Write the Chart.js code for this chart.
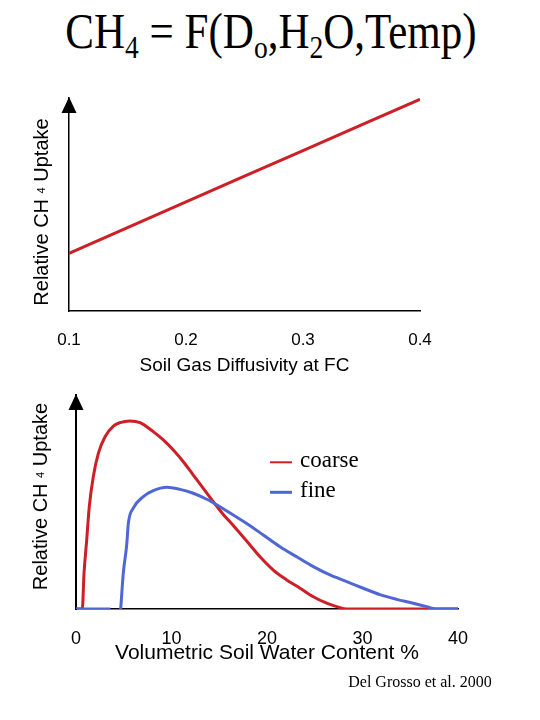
<!DOCTYPE html>
<html>
<head>
<meta charset="utf-8">
<script src="https://cdn.jsdelivr.net/npm/chart.js@4.4.0/dist/chart.umd.min.js"></script>
<style>
html,body{margin:0;padding:0;background:#fff;}
body{width:540px;height:720px;position:relative;overflow:hidden;}
#title{position:absolute;left:0;width:542px;top:6px;text-align:center;font-family:'Liberation Serif','Times New Roman',serif;font-size:50px;line-height:50px;color:#000;transform:scaleX(0.86);transform-origin:271px 0;white-space:nowrap;}
#title sub{font-size:0.64em;line-height:0;vertical-align:-0.3em;}
#cite{position:absolute;left:320px;width:200px;top:674px;text-align:center;font-family:'Liberation Serif','Times New Roman',serif;font-size:16px;line-height:16px;color:#000;white-space:nowrap;}
.box{position:absolute;left:0;width:540px;}
#b1{top:80px;height:310px;}
#b2{top:385px;height:285px;}
</style>
</head>
<body>
<div id="title">CH<sub>4</sub> = F(D<sub>o</sub>,H<sub>2</sub>O,Temp)</div>
<div class="box" id="b1"><canvas id="c1"></canvas></div>
<div class="box" id="b2"><canvas id="c2"></canvas></div>
<div id="cite">Del Grosso et al. 2000</div>
<script>
// ---- top chart data ----
const topXValues = [0.1, 0.15, 0.2, 0.25, 0.3, 0.35, 0.4];
const topYValues = [0.271, 0.392, 0.512, 0.633, 0.753, 0.874, 0.994];
const topTicks = [0.1, 0.2, 0.3, 0.4];
const topTickLabels = ['0.1', '0.2', '0.3', '0.4'];
const topXTitle = 'Soil Gas Diffusivity at FC';
const yTitleParts = ['Relative CH ', '4', ' Uptake'];

// ---- bottom chart data ----
const seriesNames = ['coarse', 'fine'];
const coarseX = [0, 0.66, 0.84, 1.12, 1.39, 1.81, 2.34, 3.04, 3.91, 4.61, 5.65, 6.7, 8.09, 9.14, 10.19, 11.24, 12.28, 13.33, 14.38, 15.42, 16.47, 17.17, 18.22, 19.27, 20.66, 22.06, 23.46, 24.85, 26.25, 27.3, 28.35, 40];
const coarseY = [0, 0, 0.167, 0.322, 0.478, 0.618, 0.727, 0.805, 0.855, 0.871, 0.879, 0.871, 0.829, 0.79, 0.743, 0.688, 0.626, 0.564, 0.501, 0.442, 0.39, 0.354, 0.299, 0.244, 0.182, 0.136, 0.097, 0.057, 0.027, 0.011, 0, 0];
const fineX = [0, 3.6, 4.1, 4.68, 4.95, 5.31, 5.48, 6.0, 7.05, 8.09, 9.5, 10.89, 12.28, 13.69, 15.08, 16.47, 17.87, 19.61, 21.36, 23.11, 24.85, 26.6, 28.35, 30.08, 31.83, 33.58, 35.32, 36.72, 37.77, 40];
const fineY = [0, 0, null, 0, 0.167, 0.3, 0.4, 0.471, 0.525, 0.553, 0.569, 0.559, 0.541, 0.513, 0.478, 0.439, 0.4, 0.346, 0.291, 0.244, 0.198, 0.159, 0.128, 0.097, 0.067, 0.045, 0.027, 0.011, 0, 0];
const botTicks = [0, 10, 20, 30, 40];
const botTickLabels = ['0', '10', '20', '30', '40'];
const botXTitle = 'Volumetric Soil Water Content %';

const RED = '#cc1f26';
const BLUE = '#4f67d4';
const SANS = "'Liberation Sans', Arial, sans-serif";
const SERIF = "'Liberation Serif', 'Times New Roman', serif";

const toXY = (xs, ys) => xs.map((x, i) => ({x: x, y: ys[i]}));

const arrowPlugin = {
  id: 'axisArrow',
  afterDraw(chart, args, o) {
    const a = chart.chartArea, ctx = chart.ctx;
    ctx.save();
    ctx.fillStyle = '#000';
    ctx.beginPath();
    ctx.moveTo(a.left, a.top - 1);
    ctx.lineTo(a.left - o.half, a.top + o.len);
    ctx.lineTo(a.left + o.half, a.top + o.len);
    ctx.closePath();
    ctx.fill();
    ctx.restore();
  }
};

const yTitlePlugin = {
  id: 'yTitle',
  afterDraw(chart, args, o) {
    const ctx = chart.ctx;
    ctx.save();
    ctx.translate(o.x, o.y);
    ctx.rotate(-Math.PI / 2);
    ctx.fillStyle = '#000';
    ctx.textBaseline = 'alphabetic';
    const fonts = [o.size + 'px ' + SANS, o.subSize + 'px ' + SANS, o.size + 'px ' + SANS];
    const shifts = [0, -o.subRaise, 0];
    let total = 0;
    const widths = o.parts.map((p, i) => { ctx.font = fonts[i]; const w = ctx.measureText(p).width; total += w; return w; });
    let x = -total / 2;
    o.parts.forEach((p, i) => {
      ctx.font = fonts[i];
      ctx.fillText(p, x, o.base + shifts[i]);
      x += widths[i];
    });
    ctx.restore();
  }
};

const legendPlugin = {
  id: 'lineLegend',
  afterDraw(chart, args, o) {
    const ctx = chart.ctx;
    ctx.save();
    chart.data.datasets.forEach((ds, i) => {
      const y = o.y + i * o.gap;
      ctx.strokeStyle = ds.borderColor;
      ctx.lineWidth = o.lineWidths[i];
      ctx.beginPath();
      ctx.moveTo(o.x, y);
      ctx.lineTo(o.x + o.len, y);
      ctx.stroke();
      ctx.fillStyle = '#000';
      ctx.font = o.size + 'px ' + SERIF;
      ctx.textBaseline = 'alphabetic';
      ctx.fillText(ds.label, o.x + o.len + o.textGap, y + o.baseOff);
    });
    ctx.restore();
  }
};

new Chart(document.getElementById('c1'), {
  type: 'line',
  data: {
    datasets: [{
      data: toXY(topXValues, topYValues),
      borderColor: RED,
      borderWidth: 3,
      pointRadius: 0,
      tension: 0
    }]
  },
  options: {
    responsive: true,
    maintainAspectRatio: false,
    animation: false,
    layout: {padding: {top: 18, right: 120, left: 0, bottom: 0}},
    plugins: {
      legend: {display: false},
      tooltip: {enabled: false},
      axisArrow: {half: 7.5, len: 15},
      yTitle: {parts: yTitleParts, x: 41, y: 132, size: 20, subSize: 11, subRaise: 3, base: 7}
    },
    scales: {
      x: {
        type: 'linear', min: 0.1, max: 0.4,
        grid: {display: false, drawTicks: false},
        border: {display: true, color: '#000', width: 1.5},
        ticks: {color: '#000', font: {family: SANS, size: 17}, padding: 19, maxRotation: 0, autoSkip: false,
          callback: (v, i) => topTickLabels[i]},
        afterBuildTicks: s => { s.ticks = topTicks.map(v => ({value: v})); },
        afterFit: s => { s.height = 79; },
        title: {display: true, text: topXTitle, color: '#000', font: {family: SANS, size: 19}, padding: {top: 0, bottom: 12.6}}
      },
      y: {
        min: 0, max: 1,
        grid: {display: false, drawTicks: false},
        border: {display: true, color: '#000', width: 1.5},
        ticks: {display: false},
        afterFit: s => { s.width = 69; }
      }
    }
  },
  plugins: [arrowPlugin, yTitlePlugin]
});

new Chart(document.getElementById('c2'), {
  type: 'line',
  data: {
    datasets: [{
      label: seriesNames[0],
      data: toXY(coarseX, coarseY),
      borderColor: RED,
      borderWidth: 3,
      pointRadius: 0,
      cubicInterpolationMode: 'monotone',
      order: 1
    }, {
      label: seriesNames[1],
      data: toXY(fineX, fineY),
      borderColor: BLUE,
      borderWidth: 3,
      pointRadius: 0,
      cubicInterpolationMode: 'monotone',
      spanGaps: false,
      order: 0
    }]
  },
  options: {
    responsive: true,
    maintainAspectRatio: false,
    animation: false,
    layout: {padding: {top: 10, right: 82, left: 0, bottom: 0}},
    plugins: {
      legend: {display: false},
      tooltip: {enabled: false},
      axisArrow: {half: 7.5, len: 15},
      yTitle: {parts: yTitleParts, x: 40, y: 111.5, size: 20, subSize: 11, subRaise: 3, base: 7},
      lineLegend: {x: 270, y: 77.3, gap: 30, len: 22, textGap: 8, size: 23, baseOff: 4.5, lineWidths: [2, 3]}
    },
    scales: {
      x: {
        type: 'linear', min: 0, max: 40,
        grid: {display: false, drawTicks: false},
        border: {display: true, color: '#000', width: 1.5},
        ticks: {color: '#000', font: {family: SANS, size: 18}, padding: 19.2, maxRotation: 0, autoSkip: false,
          callback: (v, i) => botTickLabels[i]},
        afterBuildTicks: s => { s.ticks = botTicks.map(v => ({value: v})); },
        afterFit: s => { s.height = 61; },
        title: {display: true, text: botXTitle, color: '#000', font: {family: SANS, size: 21}, padding: {top: 0, bottom: 4.4}}
      },
      y: {
        min: 0, max: 1,
        grid: {display: false, drawTicks: false},
        border: {display: true, color: '#000', width: 2},
        ticks: {display: false},
        afterFit: s => { s.width = 76; }
      }
    }
  },
  plugins: [arrowPlugin, yTitlePlugin, legendPlugin]
});
</script>
</body>
</html>
